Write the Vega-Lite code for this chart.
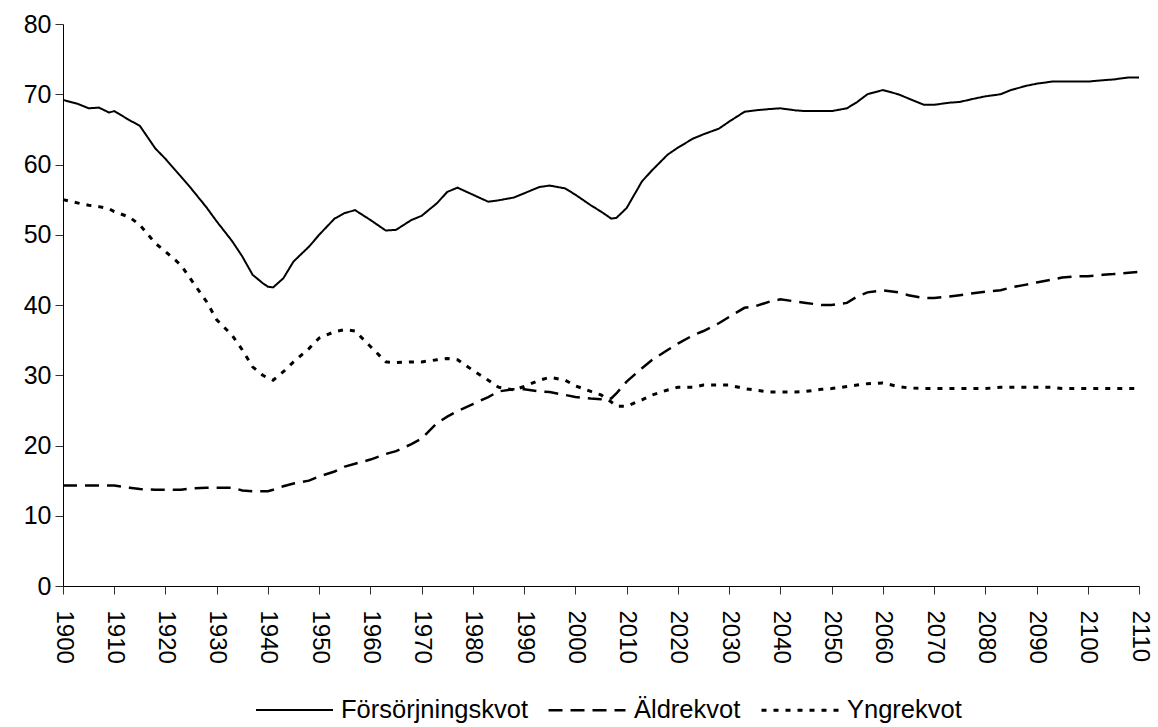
{
  "$schema": "https://vega.github.io/schema/vega-lite/v6.json",
  "autosize": {"type": "none"},
  "padding": {"left": 63, "top": 24, "right": 19, "bottom": 141},
  "width": 1076,
  "height": 562,
  "background": "white",
  "config": {
    "font": "Liberation Sans",
    "view": {"stroke": null},
    "axis": {"grid": false, "labelColor": "#000", "domainColor": "#000", "tickColor": "#333", "title": null, "labelFont": "Liberation Sans"}
  },
  "data": {
    "values": [
      {"year": 1900, "Försörjningskvot": 69.2, "Äldrekvot": 14.3, "Yngrekvot": 55.0},
      {"year": 1903, "Försörjningskvot": 68.6, "Äldrekvot": 14.3, "Yngrekvot": 54.5},
      {"year": 1905, "Försörjningskvot": 68.0, "Äldrekvot": 14.3, "Yngrekvot": 54.2},
      {"year": 1907, "Försörjningskvot": 68.1, "Äldrekvot": 14.3, "Yngrekvot": 54.0},
      {"year": 1909, "Försörjningskvot": 67.4, "Äldrekvot": 14.3, "Yngrekvot": 53.7},
      {"year": 1910, "Försörjningskvot": 67.6, "Äldrekvot": 14.3, "Yngrekvot": 53.3},
      {"year": 1913, "Försörjningskvot": 66.3, "Äldrekvot": 14.0, "Yngrekvot": 52.5},
      {"year": 1915, "Försörjningskvot": 65.5, "Äldrekvot": 13.8, "Yngrekvot": 51.4},
      {"year": 1918, "Försörjningskvot": 62.3, "Äldrekvot": 13.7, "Yngrekvot": 48.8},
      {"year": 1920, "Försörjningskvot": 60.8, "Äldrekvot": 13.7, "Yngrekvot": 47.6},
      {"year": 1923, "Försörjningskvot": 58.3, "Äldrekvot": 13.7, "Yngrekvot": 45.7},
      {"year": 1925, "Försörjningskvot": 56.6, "Äldrekvot": 13.9, "Yngrekvot": 43.6},
      {"year": 1928, "Försörjningskvot": 53.9, "Äldrekvot": 14.0, "Yngrekvot": 40.5},
      {"year": 1930, "Försörjningskvot": 51.9, "Äldrekvot": 14.0, "Yngrekvot": 37.9},
      {"year": 1933, "Försörjningskvot": 49.1, "Äldrekvot": 14.0, "Yngrekvot": 35.7},
      {"year": 1935, "Försörjningskvot": 46.9, "Äldrekvot": 13.6, "Yngrekvot": 33.6},
      {"year": 1937, "Försörjningskvot": 44.3, "Äldrekvot": 13.5, "Yngrekvot": 31.2},
      {"year": 1939, "Försörjningskvot": 43.1, "Äldrekvot": 13.5, "Yngrekvot": 30.0},
      {"year": 1940, "Försörjningskvot": 42.6, "Äldrekvot": 13.5, "Yngrekvot": 29.6},
      {"year": 1941, "Försörjningskvot": 42.5, "Äldrekvot": 13.7, "Yngrekvot": 29.3},
      {"year": 1943, "Försörjningskvot": 43.8, "Äldrekvot": 14.2, "Yngrekvot": 30.5},
      {"year": 1945, "Försörjningskvot": 46.2, "Äldrekvot": 14.6, "Yngrekvot": 31.9},
      {"year": 1948, "Försörjningskvot": 48.3, "Äldrekvot": 15.0, "Yngrekvot": 33.8},
      {"year": 1950, "Försörjningskvot": 50.0, "Äldrekvot": 15.6, "Yngrekvot": 35.3},
      {"year": 1953, "Försörjningskvot": 52.3, "Äldrekvot": 16.3, "Yngrekvot": 36.2},
      {"year": 1955, "Försörjningskvot": 53.1, "Äldrekvot": 17.0, "Yngrekvot": 36.5},
      {"year": 1957, "Försörjningskvot": 53.5, "Äldrekvot": 17.4, "Yngrekvot": 36.3},
      {"year": 1960, "Försörjningskvot": 52.1, "Äldrekvot": 18.0, "Yngrekvot": 34.1},
      {"year": 1963, "Försörjningskvot": 50.6, "Äldrekvot": 18.8, "Yngrekvot": 31.9},
      {"year": 1965, "Försörjningskvot": 50.7, "Äldrekvot": 19.2, "Yngrekvot": 31.8},
      {"year": 1968, "Försörjningskvot": 52.1, "Äldrekvot": 20.2, "Yngrekvot": 31.9},
      {"year": 1970, "Försörjningskvot": 52.7, "Äldrekvot": 21.0, "Yngrekvot": 31.9},
      {"year": 1973, "Försörjningskvot": 54.5, "Äldrekvot": 23.2, "Yngrekvot": 32.2},
      {"year": 1975, "Försörjningskvot": 56.1, "Äldrekvot": 24.1, "Yngrekvot": 32.4},
      {"year": 1977, "Försörjningskvot": 56.7, "Äldrekvot": 24.9, "Yngrekvot": 32.2},
      {"year": 1980, "Försörjningskvot": 55.7, "Äldrekvot": 25.9, "Yngrekvot": 30.7},
      {"year": 1983, "Försörjningskvot": 54.7, "Äldrekvot": 26.9, "Yngrekvot": 29.3},
      {"year": 1985, "Försörjningskvot": 54.9, "Äldrekvot": 27.7, "Yngrekvot": 28.3},
      {"year": 1988, "Försörjningskvot": 55.3, "Äldrekvot": 28.0, "Yngrekvot": 27.9},
      {"year": 1990, "Försörjningskvot": 55.9, "Äldrekvot": 28.0, "Yngrekvot": 28.4},
      {"year": 1993, "Försörjningskvot": 56.8, "Äldrekvot": 27.7, "Yngrekvot": 29.3},
      {"year": 1995, "Försörjningskvot": 57.0, "Äldrekvot": 27.6, "Yngrekvot": 29.7},
      {"year": 1998, "Försörjningskvot": 56.6, "Äldrekvot": 27.2, "Yngrekvot": 29.3},
      {"year": 2000, "Försörjningskvot": 55.7, "Äldrekvot": 26.9, "Yngrekvot": 28.5},
      {"year": 2003, "Försörjningskvot": 54.2, "Äldrekvot": 26.7, "Yngrekvot": 27.7},
      {"year": 2005, "Försörjningskvot": 53.3, "Äldrekvot": 26.6, "Yngrekvot": 27.2},
      {"year": 2007, "Försörjningskvot": 52.3, "Äldrekvot": 26.7, "Yngrekvot": 26.2},
      {"year": 2008, "Försörjningskvot": 52.4, "Äldrekvot": 27.4, "Yngrekvot": 25.6},
      {"year": 2010, "Försörjningskvot": 53.8, "Äldrekvot": 29.1, "Yngrekvot": 25.6},
      {"year": 2013, "Försörjningskvot": 57.6, "Äldrekvot": 31.0, "Yngrekvot": 26.5},
      {"year": 2015, "Försörjningskvot": 59.2, "Äldrekvot": 32.2, "Yngrekvot": 27.2},
      {"year": 2018, "Försörjningskvot": 61.4, "Äldrekvot": 33.6, "Yngrekvot": 27.9},
      {"year": 2020, "Försörjningskvot": 62.4, "Äldrekvot": 34.5, "Yngrekvot": 28.3},
      {"year": 2023, "Försörjningskvot": 63.7, "Äldrekvot": 35.7, "Yngrekvot": 28.3},
      {"year": 2025, "Försörjningskvot": 64.3, "Äldrekvot": 36.3, "Yngrekvot": 28.6},
      {"year": 2028, "Försörjningskvot": 65.1, "Äldrekvot": 37.4, "Yngrekvot": 28.6},
      {"year": 2030, "Försörjningskvot": 66.1, "Äldrekvot": 38.3, "Yngrekvot": 28.6},
      {"year": 2033, "Försörjningskvot": 67.5, "Äldrekvot": 39.6, "Yngrekvot": 28.1},
      {"year": 2035, "Försörjningskvot": 67.7, "Äldrekvot": 39.8, "Yngrekvot": 27.9},
      {"year": 2038, "Försörjningskvot": 67.9, "Äldrekvot": 40.5, "Yngrekvot": 27.6},
      {"year": 2040, "Försörjningskvot": 68.0, "Äldrekvot": 40.8, "Yngrekvot": 27.6},
      {"year": 2043, "Försörjningskvot": 67.7, "Äldrekvot": 40.5, "Yngrekvot": 27.6},
      {"year": 2045, "Försörjningskvot": 67.6, "Äldrekvot": 40.3, "Yngrekvot": 27.7},
      {"year": 2048, "Försörjningskvot": 67.6, "Äldrekvot": 40.0, "Yngrekvot": 28.0},
      {"year": 2050, "Försörjningskvot": 67.6, "Äldrekvot": 40.0, "Yngrekvot": 28.1},
      {"year": 2053, "Försörjningskvot": 68.0, "Äldrekvot": 40.3, "Yngrekvot": 28.4},
      {"year": 2055, "Försörjningskvot": 68.9, "Äldrekvot": 41.2, "Yngrekvot": 28.6},
      {"year": 2057, "Försörjningskvot": 70.0, "Äldrekvot": 41.8, "Yngrekvot": 28.8},
      {"year": 2060, "Försörjningskvot": 70.6, "Äldrekvot": 42.1, "Yngrekvot": 28.9},
      {"year": 2063, "Försörjningskvot": 70.0, "Äldrekvot": 41.8, "Yngrekvot": 28.4},
      {"year": 2065, "Försörjningskvot": 69.4, "Äldrekvot": 41.4, "Yngrekvot": 28.2},
      {"year": 2068, "Försörjningskvot": 68.5, "Äldrekvot": 41.0, "Yngrekvot": 28.1},
      {"year": 2070, "Försörjningskvot": 68.5, "Äldrekvot": 41.0, "Yngrekvot": 28.1},
      {"year": 2073, "Försörjningskvot": 68.8, "Äldrekvot": 41.2, "Yngrekvot": 28.1},
      {"year": 2075, "Försörjningskvot": 68.9, "Äldrekvot": 41.4, "Yngrekvot": 28.1},
      {"year": 2078, "Försörjningskvot": 69.4, "Äldrekvot": 41.7, "Yngrekvot": 28.1},
      {"year": 2080, "Försörjningskvot": 69.7, "Äldrekvot": 41.9, "Yngrekvot": 28.1},
      {"year": 2083, "Försörjningskvot": 70.0, "Äldrekvot": 42.1, "Yngrekvot": 28.3},
      {"year": 2085, "Försörjningskvot": 70.6, "Äldrekvot": 42.5, "Yngrekvot": 28.3},
      {"year": 2088, "Försörjningskvot": 71.2, "Äldrekvot": 42.9, "Yngrekvot": 28.3},
      {"year": 2090, "Försörjningskvot": 71.5, "Äldrekvot": 43.2, "Yngrekvot": 28.3},
      {"year": 2093, "Försörjningskvot": 71.8, "Äldrekvot": 43.6, "Yngrekvot": 28.3},
      {"year": 2095, "Försörjningskvot": 71.8, "Äldrekvot": 43.9, "Yngrekvot": 28.1},
      {"year": 2098, "Försörjningskvot": 71.8, "Äldrekvot": 44.1, "Yngrekvot": 28.1},
      {"year": 2100, "Försörjningskvot": 71.8, "Äldrekvot": 44.1, "Yngrekvot": 28.1},
      {"year": 2103, "Försörjningskvot": 72.0, "Äldrekvot": 44.3, "Yngrekvot": 28.1},
      {"year": 2105, "Försörjningskvot": 72.1, "Äldrekvot": 44.4, "Yngrekvot": 28.1},
      {"year": 2108, "Försörjningskvot": 72.4, "Äldrekvot": 44.6, "Yngrekvot": 28.1},
      {"year": 2110, "Försörjningskvot": 72.4, "Äldrekvot": 44.7, "Yngrekvot": 28.1}
    ]
  },
  "transform": [
    {"fold": ["Försörjningskvot", "Äldrekvot", "Yngrekvot"], "as": ["serie", "value"]}
  ],
  "mark": {"type": "line", "color": "#000", "strokeCap": "butt"},
  "encoding": {
    "x": {
      "field": "year",
      "type": "quantitative",
      "scale": {"domain": [1900, 2110], "nice": false, "zero": false},
      "axis": {
        "values": [1900, 1910, 1920, 1930, 1940, 1950, 1960, 1970, 1980, 1990, 2000, 2010, 2020, 2030, 2040, 2050, 2060, 2070, 2080, 2090, 2100, 2110],
        "format": "d",
        "labelAngle": 90,
        "labelFontSize": 24,
        "labelPadding": 16,
        "tickSize": 8,
        "labelFlush": false,
        "labelOverlap": false,
        "labelBound": false
      }
    },
    "y": {
      "field": "value",
      "type": "quantitative",
      "scale": {"domain": [0, 80], "nice": false},
      "axis": {
        "values": [0, 10, 20, 30, 40, 50, 60, 70, 80],
        "labelFontSize": 25,
        "labelPadding": 4,
        "tickSize": 8,
        "labelFlush": false,
        "labelOverlap": false
      }
    },
    "strokeDash": {
      "field": "serie",
      "type": "nominal",
      "scale": {"domain": ["Försörjningskvot", "Äldrekvot", "Yngrekvot"], "range": [[1, 0], [14, 8], [5, 7]]},
      "legend": {
        "title": null,
        "orient": "none",
        "direction": "horizontal",
        "legendX": 192,
        "legendY": 646,
        "padding": 0,
        "symbolType": "stroke",
        "symbolSize": 5929,
        "symbolStrokeColor": "#000",
        "symbolStrokeWidth": 2.5,
        "labelFontSize": 25.5,
        "labelColor": "#000",
        "labelOffset": 7,
        "columnPadding": 14,
        "labelLimit": 400
      }
    },
    "strokeWidth": {
      "field": "serie",
      "type": "nominal",
      "scale": {"domain": ["Försörjningskvot", "Äldrekvot", "Yngrekvot"], "range": [2, 3, 2.75]},
      "legend": null
    }
  }
}
